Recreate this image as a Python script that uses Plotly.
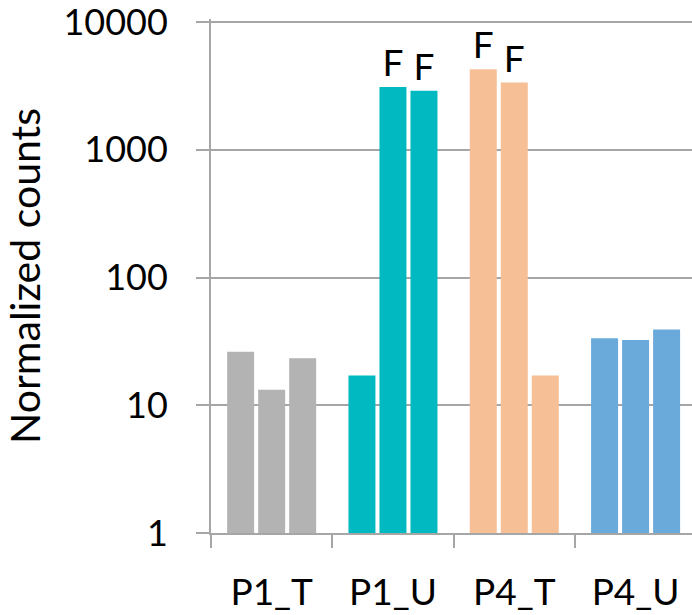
import plotly.graph_objects as go

categories = ["P1_T", "P1_U", "P4_T", "P4_U"]
rep1 = [26.2, 17.1, 4270, 33.4]
rep2 = [13.2, 3100, 3360, 32.4]
rep3 = [23.3, 2890, 17.1, 39.2]
rep1_labels = ["", "", "F", ""]
rep2_labels = ["", "F", "F", ""]
rep3_labels = ["", "F", "", ""]
group_colors = ["#b3b3b3", "#00b9c1", "#f6bf96", "#6aaadb"]
y_tickvals = [1, 10, 100, 1000, 10000]
y_ticktext = ["1", "10", "100", "1000", "10000"]

FONT = "Lato"
GRID = "#a6a6a6"

fig = go.Figure()
for vals, labels in [(rep1, rep1_labels), (rep2, rep2_labels), (rep3, rep3_labels)]:
    fig.add_trace(go.Bar(
        x=categories, y=vals, text=labels, textposition="outside",
        textfont=dict(family=FONT, size=37, color="black"),
        cliponaxis=False,
        marker=dict(color=group_colors, line=dict(width=0)),
        showlegend=False,
    ))

fig.update_layout(
    width=692, height=615,
    margin=dict(l=211, r=0, t=19, b=82, autoexpand=False),
    paper_bgcolor="white", plot_bgcolor="white",
    barmode="group", bargap=0.233, bargroupgap=0.13,
    font=dict(family=FONT, size=37, color="black"),
    xaxis=dict(
        type="category", range=[-0.5, 3.465], automargin=False,
        showgrid=False, showline=True, linecolor=GRID, linewidth=2,
        ticks="outside", tickson="boundaries", ticklen=13, tickwidth=2, tickcolor=GRID,
        tickfont=dict(family=FONT, size=37), ticklabelstandoff=26,
        ticklabeloverflow="allow",
    ),
    yaxis=dict(
        type="log", range=[0, 4.0235], automargin=False,
        tickvals=y_tickvals, ticktext=y_ticktext,
        showgrid=True, gridcolor=GRID, gridwidth=2,
        showline=True, linecolor=GRID, linewidth=2,
        ticks="outside", ticklen=13, tickwidth=2, tickcolor=GRID,
        tickfont=dict(family=FONT, size=36), ticklabelstandoff=21,
        ticklabeloverflow="allow",
        title=dict(text="Normalized counts", font=dict(family=FONT, size=41), standoff=35),
        zeroline=False,
    ),
)

fig.write_html("out.html", config={"displayModeBar": False},
               post_script="document.body.style.margin='0';")
